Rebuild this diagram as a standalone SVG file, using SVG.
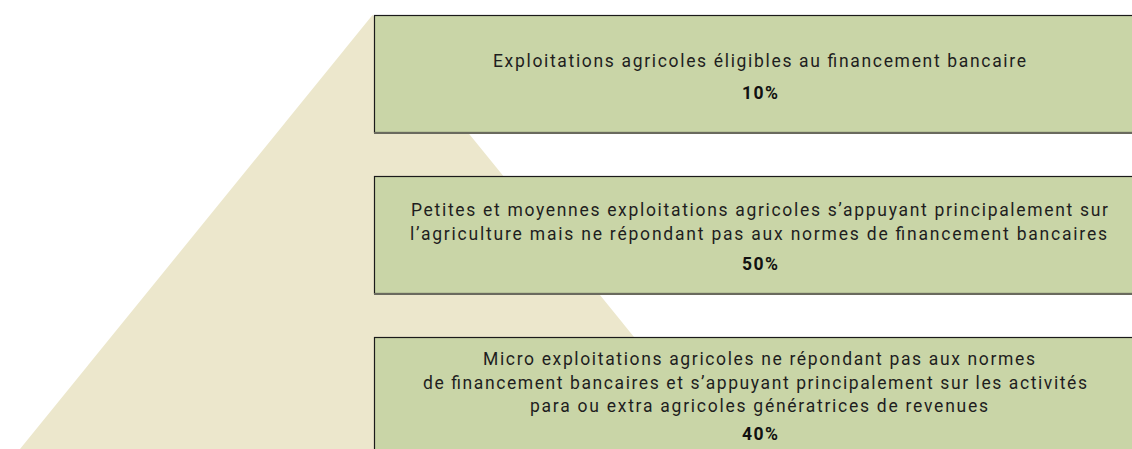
<svg xmlns="http://www.w3.org/2000/svg" width="1132" height="449" viewBox="0 0 1132 449">
<style>
.box{fill:#c9d5a7;stroke:#1a1a1a;stroke-width:1.2}
.shadow{stroke:#6a6a5e;stroke-width:2.2}
.t{font-family:Roboto,"Liberation Sans",sans-serif;font-size:17.5px;fill:#1e1e1e;text-anchor:middle}
.p{font-family:Roboto,"Liberation Sans",sans-serif;font-size:17.5px;font-weight:bold;fill:#111;text-anchor:middle}
</style>
<rect width="1132" height="449" fill="#ffffff"/>
<polygon id="pyramid" points="372.5,15 20,449 725,449" fill="#ece7cc"/>
<g id="level1">
<rect class="box" x="374.5" y="15.5" width="760" height="117"/>
<line class="shadow" x1="374" y1="133" x2="1132" y2="133"/>
<text class="t" x="759.5" y="66.5" textLength="533" lengthAdjust="spacing">Exploitations agricoles éligibles au financement bancaire</text>
<text class="p" x="760" y="98.5" textLength="36" lengthAdjust="spacing">10%</text>
</g>
<g id="level2">
<rect class="box" x="374.5" y="176.5" width="760" height="117"/>
<line class="shadow" x1="374" y1="294" x2="1132" y2="294"/>
<text class="t" x="759.5" y="216" textLength="697" lengthAdjust="spacing">Petites et moyennes exploitations agricoles s’appuyant principalement sur</text>
<text class="t" x="758.5" y="240" textLength="697" lengthAdjust="spacing">l’agriculture mais ne répondant pas aux normes de financement bancaires</text>
<text class="p" x="760" y="270" textLength="36" lengthAdjust="spacing">50%</text>
</g>
<g id="level3">
<rect class="box" x="374.5" y="337.5" width="760" height="120"/>
<text class="t" x="759" y="365" textLength="552" lengthAdjust="spacing">Micro exploitations agricoles ne répondant pas aux normes</text>
<text class="t" x="755" y="388.5" textLength="664" lengthAdjust="spacing">de financement bancaires et s’appuyant principalement sur les activités</text>
<text class="t" x="759" y="412" textLength="458" lengthAdjust="spacing">para ou extra agricoles génératrices de revenues</text>
<text class="p" x="760" y="440" textLength="36" lengthAdjust="spacing">40%</text>
</g>
<g id="connectors"/>
</svg>
